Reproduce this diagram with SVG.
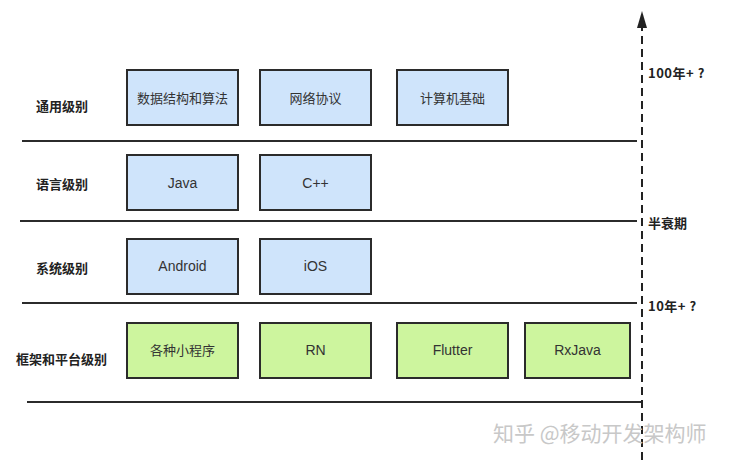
<svg xmlns="http://www.w3.org/2000/svg" width="730" height="460" viewBox="0 0 730 460">
<style>
.box{stroke:#2b2b2b;stroke-width:2}
.blue{fill:#cfe4fb}
.green{fill:#cdf59e}
.bt{font-family:"Liberation Sans","Noto Sans CJK SC",sans-serif;font-size:14px;fill:#333;text-anchor:middle;dominant-baseline:central}
.cj{font-size:13px}
.lv{font-family:"Noto Sans CJK SC",sans-serif;font-size:13px;font-weight:bold;fill:#222;dominant-baseline:central}
.hl{stroke:#2b2b2b;stroke-width:2;fill:none}
</style>
<rect width="730" height="460" fill="#fff"/>
<g id="connectors">
<line class="hl" x1="22" y1="141" x2="637" y2="141"/>
<line class="hl" x1="20" y1="221" x2="637" y2="221"/>
<line class="hl" x1="22" y1="303" x2="637" y2="303"/>
<line class="hl" x1="27" y1="402" x2="642" y2="402"/>
<line x1="642" y1="460" x2="642" y2="26" stroke="#222" stroke-width="2" stroke-dasharray="8,5"/>
<path d="M637,28 L642,11 L647,28 Z" fill="#222"/>
</g>
<g id="levels">
<text class="lv" x="36" y="105">通用级别</text>
<text class="lv" x="36" y="183">语言级别</text>
<text class="lv" x="36" y="267">系统级别</text>
<text class="lv" x="16" y="358">框架和平台级别</text>
</g>
<g id="time-labels">
<text class="lv" x="648" y="72" letter-spacing="0.5">100年+ ?</text>
<text class="lv" x="648" y="222">半衰期</text>
<text class="lv" x="648" y="305" letter-spacing="0.5">10年+ ?</text>
</g>
<g id="n-ds"><rect class="box blue" x="127" y="70" width="111" height="55"/><text class="bt cj" x="182.5" y="98">数据结构和算法</text></g>
<g id="n-net"><rect class="box blue" x="260" y="70" width="111" height="55"/><text class="bt cj" x="315.5" y="98">网络协议</text></g>
<g id="n-cs"><rect class="box blue" x="397" y="70" width="111" height="55"/><text class="bt cj" x="452.5" y="98">计算机基础</text></g>
<g id="n-java"><rect class="box blue" x="127" y="155" width="111" height="55"/><text class="bt" x="182.5" y="183">Java</text></g>
<g id="n-cpp"><rect class="box blue" x="260" y="155" width="111" height="55"/><text class="bt" x="315.5" y="183">C++</text></g>
<g id="n-android"><rect class="box blue" x="127" y="239" width="111" height="55"/><text class="bt" x="182.5" y="266">Android</text></g>
<g id="n-ios"><rect class="box blue" x="260" y="239" width="111" height="55"/><text class="bt" x="315.5" y="266">iOS</text></g>
<g id="n-mini"><rect class="box green" x="127" y="323" width="111" height="55"/><text class="bt cj" x="182.5" y="350">各种小程序</text></g>
<g id="n-rn"><rect class="box green" x="260" y="323" width="111" height="55"/><text class="bt" x="315.5" y="350">RN</text></g>
<g id="n-flutter"><rect class="box green" x="397" y="323" width="111" height="55"/><text class="bt" x="452.5" y="350">Flutter</text></g>
<g id="n-rxjava"><rect class="box green" x="525" y="323" width="105" height="55"/><text class="bt" x="577.5" y="350">RxJava</text></g>
<text x="493" y="432" font-family="Noto Sans CJK SC,sans-serif" font-size="21" fill="#c8c8c8" dominant-baseline="central">知乎 @移动开发架构师</text>
</svg>
